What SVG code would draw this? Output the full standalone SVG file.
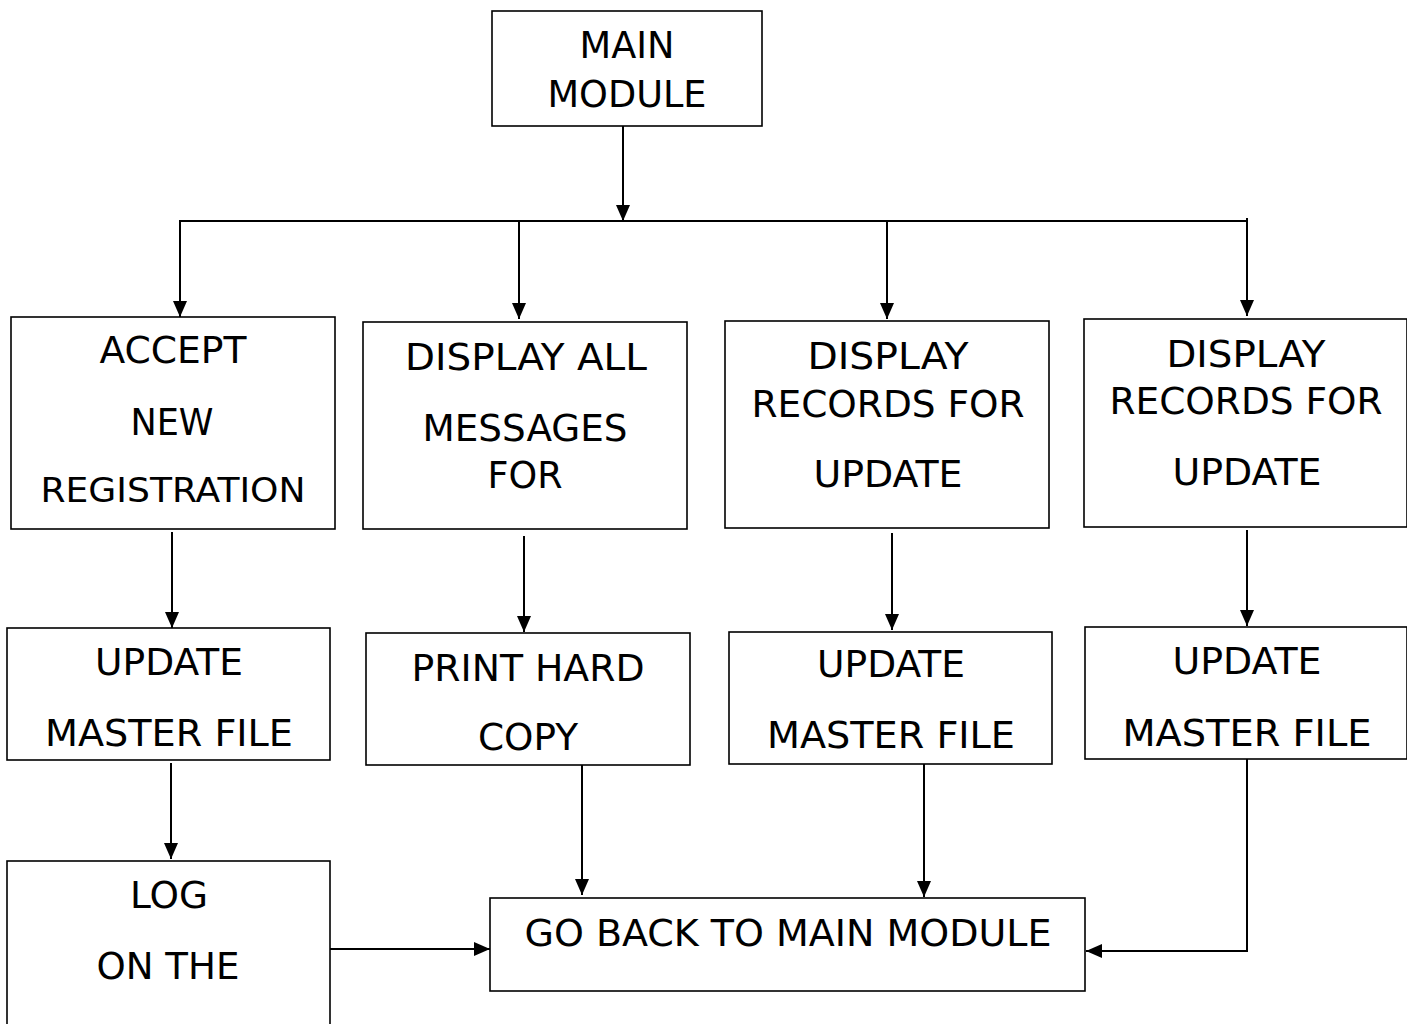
<svg xmlns="http://www.w3.org/2000/svg" width="1407" height="1024" viewBox="0 0 1407 1024">
<defs>
<style>
.box{fill:#fff;stroke:#000;stroke-width:1.6}
.t{font-family:"DejaVu Sans",Verdana,sans-serif;font-size:37px;fill:#000;text-anchor:middle}
.s{font-size:33px}
.c{fill:none;stroke:#000;stroke-width:2}
</style>
<marker id="ah" markerUnits="userSpaceOnUse" markerWidth="16" markerHeight="16" viewBox="0 0 16 14" refX="16" refY="7" orient="auto">
<path d="M0,0 L16,7 L0,14 Z" fill="#000"/>
</marker>
</defs>
<rect width="1407" height="1024" fill="#fff"/>
<g id="connectors">
<line class="c" x1="623" y1="126" x2="623" y2="221" marker-end="url(#ah)"/>
<line class="c" x1="179" y1="221" x2="1248" y2="221"/>
<line class="c" x1="180" y1="221" x2="180" y2="317" marker-end="url(#ah)"/>
<line class="c" x1="519" y1="221" x2="519" y2="319" marker-end="url(#ah)"/>
<line class="c" x1="887" y1="221" x2="887" y2="319" marker-end="url(#ah)"/>
<line class="c" x1="1247" y1="218" x2="1247" y2="316" marker-end="url(#ah)"/>
<line class="c" x1="172" y1="532" x2="172" y2="628" marker-end="url(#ah)"/>
<line class="c" x1="524" y1="536" x2="524" y2="632" marker-end="url(#ah)"/>
<line class="c" x1="892" y1="533" x2="892" y2="630" marker-end="url(#ah)"/>
<line class="c" x1="1247" y1="530" x2="1247" y2="626" marker-end="url(#ah)"/>
<line class="c" x1="171" y1="763" x2="171" y2="859" marker-end="url(#ah)"/>
<line class="c" x1="582" y1="761" x2="582" y2="895" marker-end="url(#ah)"/>
<line class="c" x1="924" y1="764" x2="924" y2="897" marker-end="url(#ah)"/>
<polyline class="c" points="1247,759 1247,951 1086,951" marker-end="url(#ah)"/>
<line class="c" x1="330" y1="949" x2="490" y2="949" marker-end="url(#ah)"/>
</g>
<g id="main-module">
<rect class="box" x="492" y="11" width="270" height="115"/>
<text class="t" x="627" y="58" textLength="95" lengthAdjust="spacingAndGlyphs">MAIN</text>
<text class="t" x="627" y="107" textLength="159" lengthAdjust="spacingAndGlyphs">MODULE</text>
</g>
<g id="accept-new-registration">
<rect class="box" x="11" y="317" width="324" height="212"/>
<text class="t" x="173" y="363" textLength="147" lengthAdjust="spacingAndGlyphs">ACCEPT</text>
<text class="t" x="172" y="435" textLength="83" lengthAdjust="spacingAndGlyphs">NEW</text>
<text class="t s" x="173" y="502" textLength="265" lengthAdjust="spacingAndGlyphs">REGISTRATION</text>
</g>
<g id="display-all-messages">
<rect class="box" x="363" y="322" width="324" height="207"/>
<text class="t" x="526" y="370" textLength="242" lengthAdjust="spacingAndGlyphs">DISPLAY ALL</text>
<text class="t" x="525" y="441" textLength="205" lengthAdjust="spacingAndGlyphs">MESSAGES</text>
<text class="t" x="525" y="488" textLength="75" lengthAdjust="spacingAndGlyphs">FOR</text>
</g>
<g id="display-records-1">
<rect class="box" x="725" y="321" width="324" height="207"/>
<text class="t" x="888" y="369" textLength="161" lengthAdjust="spacingAndGlyphs">DISPLAY</text>
<text class="t" x="888" y="417" textLength="273" lengthAdjust="spacingAndGlyphs">RECORDS FOR</text>
<text class="t" x="888" y="487" textLength="149" lengthAdjust="spacingAndGlyphs">UPDATE</text>
</g>
<g id="display-records-2">
<rect class="box" x="1084" y="319" width="323" height="208"/>
<text class="t" x="1246" y="367" textLength="159" lengthAdjust="spacingAndGlyphs">DISPLAY</text>
<text class="t" x="1246" y="414" textLength="273" lengthAdjust="spacingAndGlyphs">RECORDS FOR</text>
<text class="t" x="1247" y="485" textLength="149" lengthAdjust="spacingAndGlyphs">UPDATE</text>
</g>
<g id="update-master-file-1">
<rect class="box" x="7" y="628" width="323" height="132"/>
<text class="t" x="169" y="675" textLength="148" lengthAdjust="spacingAndGlyphs">UPDATE</text>
<text class="t" x="169" y="746" textLength="248" lengthAdjust="spacingAndGlyphs">MASTER FILE</text>
</g>
<g id="print-hard-copy">
<rect class="box" x="366" y="633" width="324" height="132"/>
<text class="t" x="528" y="681" textLength="233" lengthAdjust="spacingAndGlyphs">PRINT HARD</text>
<text class="t" x="528" y="750" textLength="100" lengthAdjust="spacingAndGlyphs">COPY</text>
</g>
<g id="update-master-file-3">
<rect class="box" x="729" y="632" width="323" height="132"/>
<text class="t" x="891" y="677" textLength="148" lengthAdjust="spacingAndGlyphs">UPDATE</text>
<text class="t" x="891" y="748" textLength="248" lengthAdjust="spacingAndGlyphs">MASTER FILE</text>
</g>
<g id="update-master-file-4">
<rect class="box" x="1085" y="627" width="322" height="132"/>
<text class="t" x="1247" y="674" textLength="149" lengthAdjust="spacingAndGlyphs">UPDATE</text>
<text class="t" x="1247" y="746" textLength="249" lengthAdjust="spacingAndGlyphs">MASTER FILE</text>
</g>
<g id="log-on-the">
<rect class="box" x="7" y="861" width="323" height="180"/>
<text class="t" x="169" y="908" textLength="78" lengthAdjust="spacingAndGlyphs">LOG</text>
<text class="t" x="168" y="979" textLength="143" lengthAdjust="spacingAndGlyphs">ON THE</text>
</g>
<g id="go-back-to-main-module">
<rect class="box" x="490" y="898" width="595" height="93"/>
<text class="t" x="788" y="946" textLength="527" lengthAdjust="spacingAndGlyphs">GO BACK TO MAIN MODULE</text>
</g>
</svg>
